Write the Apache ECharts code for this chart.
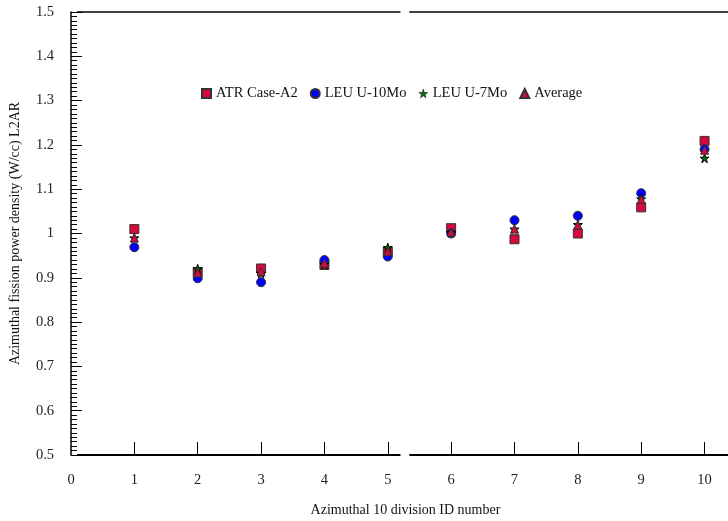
<!DOCTYPE html>
<html><head><meta charset="utf-8">
<script src="https://cdn.jsdelivr.net/npm/echarts@6/dist/echarts.min.js"></script>
<style>html,body{margin:0;padding:0;background:#fff}#c{width:728px;height:521px}</style>
</head><body><div id="c"></div>
<script>
const ids = [1, 2, 3, 4, 5, 6, 7, 8, 9, 10];
const atrCaseA2 = [1.010, 0.913, 0.921, 0.929, 0.959, 1.012, 0.987, 1.000, 1.059, 1.209];
const leuU10Mo  = [0.969, 0.899, 0.890, 0.940, 0.948, 1.000, 1.030, 1.040, 1.091, 1.190];
const leuU7Mo   = [0.990, 0.920, 0.910, 0.930, 0.968, 1.002, 1.010, 1.020, 1.078, 1.170];
const average   = [0.990, 0.911, 0.914, 0.933, 0.959, 1.003, 1.010, 1.019, 1.077, 1.188];
const xTickLabels = [0, 1, 2, 3, 4, 5, 6, 7, 8, 9, 10];
const seriesNames = ['ATR Case-A2', 'LEU U-10Mo', 'LEU U-7Mo', 'Average'];

const FONT = 'Liberation Serif';
const STAR = 'path://M50,0 L61.8,35.1 L97.6,35.1 L68.8,56.7 L79.4,91 L50,70 L20.6,91 L31.2,56.7 L2.4,35.1 L38.2,35.1 Z';
const pairs = vals => ids.map((x, i) => [x, vals[i]]);

const chart = echarts.init(document.getElementById('c'), null, {renderer: 'canvas'});
chart.setOption({
  animation: false,
  backgroundColor: '#fff',
  grid: {left: 71, right: 0, top: 12, bottom: 66, containLabel: false, outerBoundsMode: 'none'},
  legend: {
    left: 196, top: 81, itemWidth: 9, itemHeight: 9, itemGap: 12,
    textStyle: {fontFamily: FONT, fontSize: 14.5, color: '#111'},
    data: [
      {name: seriesNames[0], icon: 'rect'},
      {name: seriesNames[1], icon: 'circle'},
      {name: seriesNames[2], icon: STAR, itemStyle: {borderWidth: 0.5}},
      {name: seriesNames[3], icon: 'triangle'}
    ]
  },
  xAxis: {
    type: 'value', min: 0, max: 10.37, interval: 1,
    name: 'Azimuthal 10 division ID number', nameLocation: 'middle', nameGap: 48,
    nameTextStyle: {fontFamily: FONT, fontSize: 14, color: '#111', padding: [0, 0, 0, 12]},
    axisLine: {show: false},
    axisTick: {show: true, inside: true, length: 13, lineStyle: {color: '#000', width: 1},
               customValues: xTickLabels.slice(1)},
    axisLabel: {fontFamily: FONT, fontSize: 14.5, color: '#222', margin: 18,
                customValues: xTickLabels},
    splitLine: {show: false}
  },
  yAxis: {
    type: 'value', min: 0.5, max: 1.5, interval: 0.1,
    name: 'Azimuthal fission power density (W/cc) L2AR', nameLocation: 'middle', nameGap: 49,
    nameTextStyle: {fontFamily: FONT, fontSize: 14, color: '#111'},
    axisLine: {show: true, lineStyle: {color: '#000', width: 1.5}},
    axisTick: {show: true, inside: true, length: 11, lineStyle: {color: '#000', width: 1}},
    minorTick: {show: true, splitNumber: 10, length: 6, lineStyle: {color: '#000', width: 1}},
    axisLabel: {fontFamily: FONT, fontSize: 14.5, color: '#222', margin: 17,
                formatter: v => String(+v.toFixed(1))},
    splitLine: {show: false}
  },
  series: [
    {
      name: seriesNames[0], type: 'scatter', data: pairs(atrCaseA2), z: 2,
      symbol: 'rect', symbolSize: 9,
      itemStyle: {color: '#d9083c', borderColor: '#333', borderWidth: 1, opacity: 1},
      markLine: {
        silent: true, symbol: 'none', label: {show: false}, animation: false,
        lineStyle: {type: 'solid', color: '#000', width: 2},
        data: [
          [{coord: [0.095, 0.5]}, {coord: [5.2, 0.5]}],
          [{coord: [5.34, 0.5]}, {coord: [10.37, 0.5]}],
          [{coord: [0.095, 1.5], lineStyle: {width: 1.5}}, {coord: [5.2, 1.5]}],
          [{coord: [5.34, 1.5], lineStyle: {width: 1.5}}, {coord: [10.37, 1.5]}]
        ]
      }
    },
    {
      name: seriesNames[1], type: 'scatter', data: pairs(leuU10Mo), z: 3,
      symbol: 'circle', symbolSize: 9,
      itemStyle: {color: '#0000ff', borderColor: '#333', borderWidth: 1, opacity: 1}
    },
    {
      name: seriesNames[2], type: 'scatter', data: pairs(leuU7Mo), z: 4,
      symbol: STAR, symbolSize: 9,
      itemStyle: {color: '#0a6b0a', borderColor: '#000', borderWidth: 1, opacity: 1}
    },
    {
      name: seriesNames[3], type: 'scatter', data: pairs(average), z: 5,
      symbol: 'triangle', symbolSize: 8,
      itemStyle: {color: '#d9083c', borderColor: '#333', borderWidth: 1, opacity: 1}
    }
  ]
});
</script></body></html>
